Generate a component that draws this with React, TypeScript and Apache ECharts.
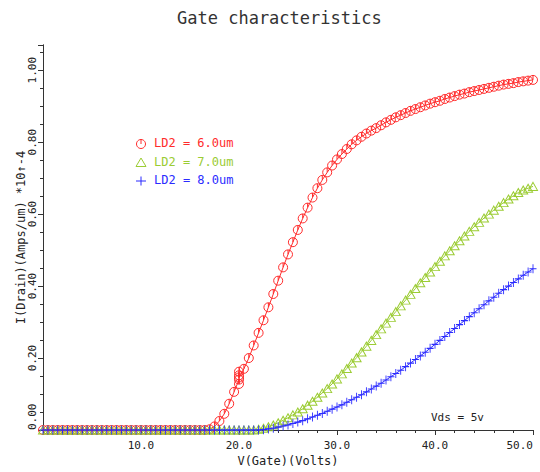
import React, { useEffect, useRef } from "react";
import * as echarts from "echarts";

// Gate voltage sweep (Volts)
const vGate = [
  0, 0.5, 1, 1.5, 2, 2.5, 3, 3.5, 4, 4.5, 5, 5.5, 6, 6.5, 7, 7.5, 8, 8.5, 9, 9.5,
  10, 10.5, 11, 11.5, 12, 12.5, 13, 13.5, 14, 14.5, 15, 15.5, 16, 16.5, 17, 17.5, 18, 18.5, 19, 19.5,
  20, 20.5, 21, 21.5, 22, 22.5, 23, 23.5, 24, 24.5, 25, 25.5, 26, 26.5, 27, 27.5, 28, 28.5, 29, 29.5,
  30, 30.5, 31, 31.5, 32, 32.5, 33, 33.5, 34, 34.5, 35, 35.5, 36, 36.5, 37, 37.5, 38, 38.5, 39, 39.5,
  40, 40.5, 41, 41.5, 42, 42.5, 43, 43.5, 44, 44.5, 45, 45.5, 46, 46.5, 47, 47.5, 48, 48.5, 49, 49.5, 50,
];

// I(Drain) (Amps/um, x1e-4) for LD2 = 6.0um
const idLd6 = [
  0, 0, 0, 0, 0, 0, 0, 0, 0, 0, 0, 0, 0, 0, 0, 0, 0, 0, 0, 0,
  0, 0, 0, 0, 0, 0, 0, 0, 0, 0, 0, 0, 0, 0, 0.002, 0.01, 0.025, 0.045, 0.073, 0.106,
  0.14, 0.17, 0.2, 0.235, 0.27, 0.305, 0.341, 0.378, 0.415, 0.452, 0.488, 0.522, 0.556, 0.588, 0.618, 0.646, 0.672, 0.695, 0.716, 0.735,
  0.752, 0.767, 0.781, 0.794, 0.805, 0.815, 0.824, 0.832, 0.839, 0.847, 0.855, 0.862, 0.869, 0.875, 0.881, 0.887, 0.892, 0.897, 0.902, 0.907,
  0.911, 0.915, 0.92, 0.924, 0.928, 0.932, 0.935, 0.939, 0.942, 0.945, 0.948, 0.951, 0.954, 0.957, 0.96, 0.962, 0.964, 0.967, 0.969, 0.971, 0.973,
];
// extra re-solved points at V(Gate) = 20.0 for LD2 = 6.0um
const ld6ExtraV = 20;
const ld6ExtraI = [0.128, 0.152, 0.162, 0.146];

// LD2 = 7.0um
const idLd7 = [
  0, 0, 0, 0, 0, 0, 0, 0, 0, 0, 0, 0, 0, 0, 0, 0, 0, 0, 0, 0,
  0, 0, 0, 0, 0, 0, 0, 0, 0, 0, 0, 0, 0, 0, 0, 0, 0, 0, 0, 0,
  0, 0, 0, 0, 0.002, 0.005, 0.009, 0.014, 0.02, 0.027, 0.034, 0.042, 0.05, 0.059, 0.069, 0.08, 0.091, 0.103, 0.115, 0.128,
  0.142, 0.156, 0.171, 0.186, 0.201, 0.217, 0.233, 0.249, 0.265, 0.281, 0.297, 0.313, 0.329, 0.345, 0.361, 0.377, 0.393, 0.409, 0.424, 0.439,
  0.454, 0.469, 0.484, 0.498, 0.512, 0.526, 0.539, 0.552, 0.565, 0.577, 0.589, 0.6, 0.611, 0.622, 0.632, 0.642, 0.651, 0.66, 0.667, 0.672, 0.677,
];

// LD2 = 8.0um
const idLd8 = [
  0, 0, 0, 0, 0, 0, 0, 0, 0, 0, 0, 0, 0, 0, 0, 0, 0, 0, 0, 0,
  0, 0, 0, 0, 0, 0, 0, 0, 0, 0, 0, 0, 0, 0, 0, 0, 0, 0, 0, 0,
  0, 0, 0, 0, 0, 0.001, 0.003, 0.005, 0.008, 0.011, 0.014, 0.018, 0.022, 0.026, 0.031, 0.036, 0.041, 0.046, 0.052, 0.058,
  0.064, 0.07, 0.077, 0.084, 0.091, 0.098, 0.106, 0.114, 0.122, 0.13, 0.139, 0.148, 0.157, 0.166, 0.176, 0.186, 0.196, 0.206, 0.216, 0.227,
  0.238, 0.249, 0.26, 0.271, 0.282, 0.293, 0.304, 0.315, 0.326, 0.337, 0.348, 0.359, 0.369, 0.38, 0.39, 0.4, 0.41, 0.42, 0.43, 0.439, 0.448,
];

const seriesNames = ["LD2 = 6.0um", "LD2 = 7.0um", "LD2 = 8.0um"];
const xTickLabels = ["10.0", "20.0", "30.0", "40.0", "50.0"];
const yTickLabels = ["0.00", "0.20", "0.40", "0.60", "0.80", "1.00"];

const RED = "#ff2b2b";
const GREEN = "#9bcc33";
const BLUE = "#2b2bff";
const MONO = "DejaVu Sans Mono";

const circleSym = "path://M0,-5A5,5,0,1,1,0,5A5,5,0,1,1,0,-5ZM0,-5L0,0";
const triSym = "path://M0,-5L5,4L-5,4Z";
const plusSym = "path://M0,-5L0,5M-4,0L4,0";

function pairs(ys: number[]) {
  return vGate.map((v, i) => [v, ys[i]]);
}

function ld6Data() {
  const out: number[][] = [];
  vGate.forEach((v, i) => {
    out.push([v, idLd6[i]]);
    if (v === ld6ExtraV) ld6ExtraI.forEach((y) => out.push([v, y]));
  });
  return out;
}

export default function App() {
  const ref = useRef<HTMLDivElement>(null);
  useEffect(() => {
    document.body.style.margin = "0";
    const chart = echarts.init(ref.current!, null, { renderer: "svg" });
    const axisLine = { show: true, lineStyle: { color: "#333", width: 1 } };
    const mkSeries = (name: string, data: number[][], color: string, symbol: string, size: any) => ({
      type: "line",
      name,
      data,
      symbol,
      symbolSize: size,
      showAllSymbol: true,
      lineStyle: { color, width: 1 },
      itemStyle: { color: "none", borderColor: color, borderWidth: 1 },
      emphasis: { disabled: true },
      silent: true,
      clip: true,
    });
    chart.setOption({
      animation: false,
      backgroundColor: "#fff",
      title: {
        text: "Gate characteristics",
        left: 172,
        top: 4,
        textStyle: { fontFamily: MONO, fontSize: 17, fontWeight: "normal", color: "#333" },
      },
      grid: { left: 43, right: 7, top: 45, bottom: 39, containLabel: false },
      xAxis: [
        {
          type: "value",
          position: "bottom",
          min: 0,
          max: 50,
          interval: 10,
          axisLine,
          axisTick: { show: true, inside: false, length: 5, lineStyle: { color: "#333" } },
          minorTick: { show: true, splitNumber: 5, length: 3, lineStyle: { color: "#333" } },
          splitLine: { show: false },
          axisLabel: {
            fontFamily: MONO,
            fontSize: 11,
            color: "#222",
            margin: 10,
            alignMaxLabel: "right",
            formatter: (v: number) => {
              const i = Math.round(v / 10) - 1;
              return i >= 0 && Math.abs(v - (i + 1) * 10) < 1e-6 ? xTickLabels[i] : "";
            },
          },
          name: "V(Gate)(Volts)",
          nameLocation: "middle",
          nameGap: 25,
          nameMoveOverlap: false,
          nameTextStyle: { fontFamily: MONO, fontSize: 12, color: "#222" },
        },
        {
          type: "value",
          position: "top",
          min: 0,
          max: 50,
          interval: 10,
          axisLine,
          axisTick: { show: true, inside: true, length: 5, lineStyle: { color: "#333" } },
          minorTick: { show: true, splitNumber: 5, length: 3, lineStyle: { color: "#333" } },
          splitLine: { show: false },
          axisLabel: { show: false },
        },
      ],
      yAxis: [
        {
          type: "value",
          position: "left",
          min: 0,
          max: 1.07,
          interval: 0.2,
          axisLine,
          axisTick: { show: true, inside: false, length: 5, lineStyle: { color: "#333" } },
          minorTick: { show: true, splitNumber: 4, length: 3, lineStyle: { color: "#333" } },
          splitLine: { show: false },
          axisLabel: {
            rotate: 90,
            fontFamily: MONO,
            fontSize: 11,
            color: "#222",
            margin: 5,
            alignMinLabel: "left",
            formatter: (v: number) => {
              const i = Math.round(v / 0.2);
              return Math.abs(v - i * 0.2) < 1e-6 && i <= 5 ? yTickLabels[i] : "";
            },
          },
          name: "I(Drain)(Amps/um) *10\u2191-4",
          nameLocation: "middle",
          nameGap: 16,
          nameMoveOverlap: false,
          nameTextStyle: { fontFamily: MONO, fontSize: 12, color: "#222" },
        },
        {
          type: "value",
          position: "right",
          min: 0,
          max: 1.07,
          interval: 0.2,
          axisLine,
          axisTick: { show: true, inside: true, length: 5, lineStyle: { color: "#333" } },
          minorTick: { show: true, splitNumber: 4, length: 3, lineStyle: { color: "#333" } },
          splitLine: { show: false },
          axisLabel: { show: false },
        },
      ],
      series: [
        mkSeries(seriesNames[0], ld6Data(), RED, circleSym, 9),
        mkSeries(seriesNames[1], pairs(idLd7), GREEN, triSym, [9, 8]),
        mkSeries(seriesNames[2], pairs(idLd8), BLUE, plusSym, [7, 9]),
      ],
      graphic: [
        { type: "circle", shape: { cx: 141, cy: 144, r: 4.5 }, style: { fill: "none", stroke: RED, lineWidth: 1 }, z: 10 },
        { type: "line", shape: { x1: 141, y1: 139.5, x2: 141, y2: 144 }, style: { stroke: RED, lineWidth: 1 }, z: 10 },
        { type: "text", left: 154, top: 137, style: { text: seriesNames[0], fill: RED, font: `12px '${MONO}'` }, z: 10 },
        { type: "polygon", shape: { points: [[141, 158], [146, 166.5], [136, 166.5]] }, style: { fill: "none", stroke: GREEN, lineWidth: 1 }, z: 10 },
        { type: "text", left: 154, top: 155.5, style: { text: seriesNames[1], fill: GREEN, font: `12px '${MONO}'` }, z: 10 },
        { type: "line", shape: { x1: 141, y1: 176.5, x2: 141, y2: 185.5 }, style: { stroke: BLUE, lineWidth: 1 }, z: 10 },
        { type: "line", shape: { x1: 136, y1: 181, x2: 146, y2: 181 }, style: { stroke: BLUE, lineWidth: 1 }, z: 10 },
        { type: "text", left: 154, top: 174, style: { text: seriesNames[2], fill: BLUE, font: `12px '${MONO}'` }, z: 10 },
        { type: "text", left: 431, top: 412, style: { text: "Vds = 5v", fill: "#222", font: `11px '${MONO}'` }, z: 10 },
      ],
    });
    return () => chart.dispose();
  }, []);
  return <div ref={ref} style={{ width: 540, height: 472 }} />;
}
